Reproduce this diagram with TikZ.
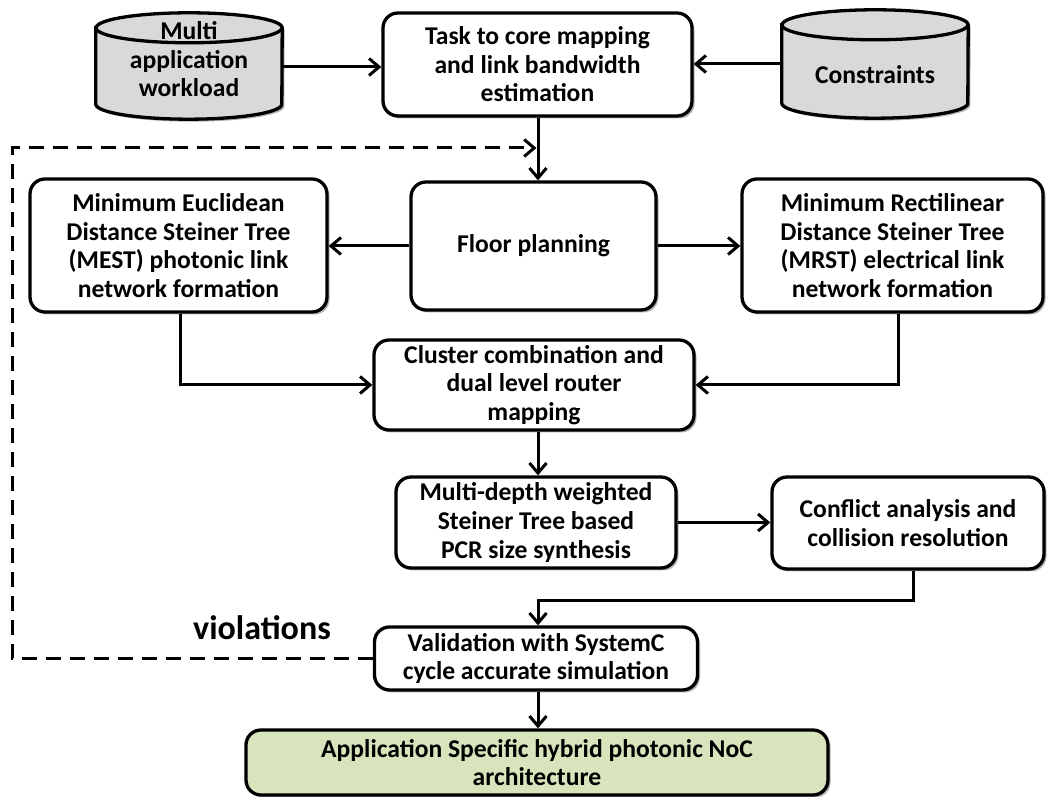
\documentclass[tikz,border=0pt]{standalone}
\usepackage{fontspec}
\setmainfont{Carlito}
\usetikzlibrary{arrows.meta,shadows,calc}
\definecolor{cylgray}{RGB}{217,217,217}
\definecolor{appgreen}{RGB}{216,228,188}
\newcommand\boxfont{\fontsize{25.6}{28.6}\selectfont\bfseries}
\tikzset{
  shade3/.style={drop shadow={shadow xshift=2.5pt,shadow yshift=-2.5pt,opacity=0.3,fill=black}},
  box/.style={draw, line width=3.3pt, rounded corners=15pt, fill=white, align=center,
    font=\boxfont, inner sep=2pt, shade3},
  cylspace/.style={inner sep=0pt},
  cyltext/.style={align=center, font=\boxfont, inner sep=0pt},
  cylbody/.style={draw, line width=3.3pt, fill=cylgray, shade3},
  cylrim/.style={draw, line width=3.3pt},
  conn/.style={line width=3pt, -{Straight Barb[length=10pt,width=17pt]}},
  loopback/.style={conn, dash pattern=on 15pt off 9pt},
}
% cylinder drawn around an empty sizing node: #1 node name, #2 half width
\newcommand\drawcyl[2]{%
  \path[cylbody] let \p1=(#1.north west), \p2=(#1.south east) in
    (\x1,\y1-15pt) -- (\x1,\y2+15pt)
    arc[start angle=180,end angle=360,x radius=#2,y radius=15pt]
    -- (\x2,\y1-15pt)
    arc[start angle=0,end angle=180,x radius=#2,y radius=15pt] -- cycle;
  \path[cylrim] let \p1=(#1.north west) in (\x1,\y1-15pt)
    arc[start angle=180,end angle=360,x radius=#2,y radius=15pt];
}
\begin{document}
\begin{tikzpicture}[x=1pt,y=1pt]
\useasboundingbox (0,0) rectangle (1047,797);

% data sources
\node[cylspace, minimum width=186pt, minimum height=106pt] (wl) at (189,731) {};
\drawcyl{wl}{93pt}
\node[cyltext] (wltext) at (189,737.5) {Multi\\application\\workload};

\node[cylspace, minimum width=186pt, minimum height=108pt] (cons) at (875,733) {};
\drawcyl{cons}{93pt}
\node[cyltext] (constext) at (875,722) {Constraints};

% process steps
\node[box, minimum width=309pt, minimum height=103pt] (task) at (537.5,732.5)
  {Task to core mapping\\and link bandwidth\\estimation};
\node[box, minimum width=297pt, minimum height=133pt] (mest) at (178.5,551.5)
  {Minimum Euclidean\\Distance Steiner Tree\\(MEST) photonic link\\network formation};
\node[box, minimum width=245pt, minimum height=128pt] (floor) at (533.5,551)
  {Floor planning};
\node[box, minimum width=301pt, minimum height=133pt] (mrst) at (892.5,551.5)
  {Minimum Rectilinear\\Distance Steiner Tree\\(MRST) electrical link\\network formation};
\node[box, minimum width=320pt, minimum height=90pt] (clus) at (534,412)
  {Cluster combination and\\dual level router\\mapping};
\node[box, minimum width=280pt, minimum height=91pt] (mdw) at (536,274.5)
  {Multi-depth weighted\\Steiner Tree based\\PCR size synthesis};
\node[box, minimum width=272pt, minimum height=92pt] (conf) at (908,274)
  {Conflict analysis and\\collision resolution};
\node[box, minimum width=323pt, minimum height=63pt] (valid) at (536,138.5)
  {Validation with SystemC\\cycle accurate simulation};
\node[box, fill=appgreen, minimum width=582pt, minimum height=65pt] (app) at (537,34.5)
  {Application Specific hybrid photonic NoC\\architecture};

\node[font=\fontsize{34}{40}\selectfont\bfseries, inner sep=0pt] (viol) at (262,169) {violations};

% connectors
\coordinate (trunk) at (538,0);
\draw[conn] ([yshift=-1pt]wl.east) -- ([yshift=-1pt]wl.east -| task.west);
\draw[conn] (cons.west) -- (cons.west -| task.east);
\draw[conn] (task.south -| trunk) -- (floor.north -| trunk);
\draw[conn] (floor.west) -- (floor.west -| mest.east);
\draw[conn] (floor.east) -- (floor.east -| mrst.west);
\draw[conn] ([xshift=1.5pt]mest.south) |- (clus.west);
\draw[conn] ([xshift=5.5pt]mrst.south) |- (clus.east);
\draw[conn] (clus.south -| trunk) -- (mdw.north -| trunk);
\draw[conn] (mdw.east) -- (mdw.east -| conf.west);
\coordinate (bend) at ([xshift=5pt,yshift=-30pt]conf.south);
\draw[conn] ([xshift=5pt]conf.south) -- (bend) -| (valid.north -| trunk);
\draw[conn] (valid.south -| trunk) -- (app.north -| trunk);

% feedback loop on violations
\coordinate (ftl) at (12,649);
\draw[loopback, shorten >=1.5pt] (valid.west) -- (valid.west -| ftl) -- (ftl) -- (ftl -| trunk);
\end{tikzpicture}
\end{document}
